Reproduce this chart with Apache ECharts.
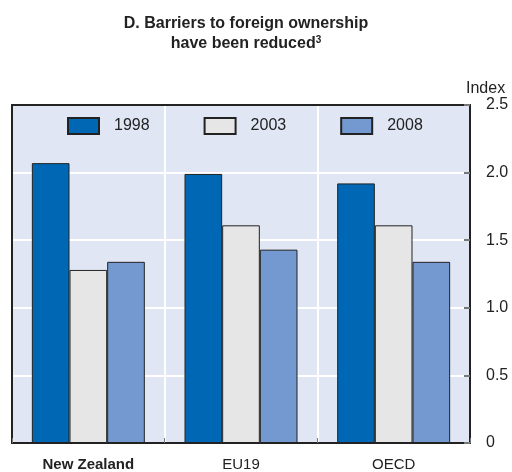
<!DOCTYPE html>
<html><head><meta charset="utf-8">
<script src="https://cdn.jsdelivr.net/npm/echarts@6/dist/echarts.min.js"></script>
<style>html,body{margin:0;padding:0;background:#fff}#c{width:512px;height:472px}</style>
</head><body><div id="c"></div>
<script>
const categories = ['New Zealand', 'EU19', 'OECD'];
const seriesNames = ['1998', '2003', '2008'];
const values1998 = [2.07, 1.99, 1.92];
const values2003 = [1.28, 1.61, 1.61];
const values2008 = [1.34, 1.43, 1.34];
const yTicks = [0, 0.5, 1.0, 1.5, 2.0, 2.5];
const colors = ['#0067B4', '#E6E6E6', '#7399D0'];
const FONT = "'Liberation Sans', Arial, sans-serif";

const chart = echarts.init(document.getElementById('c'), null, {renderer: 'canvas'});
const data = [values1998, values2003, values2008];
chart.setOption({
  animation: false,
  title: {
    text: 'D. Barriers to foreign ownership\nhave been reduced{sup|3}',
    left: 241, top: 9, textAlign: 'center',
    textStyle: {
      fontFamily: FONT, fontSize: 16, fontWeight: 'bold', color: '#222', lineHeight: 20,
      rich: { sup: { fontFamily: FONT, fontSize: 10, fontWeight: 'bold', color: '#222', padding: [0, 0, 7, 0] } }
    }
  },
  legend: {
    data: seriesNames,
    left: 67, top: 117, padding: 0,
    itemWidth: 31, itemHeight: 16, itemGap: 54,
    icon: 'rect',
    textStyle: { fontFamily: FONT, fontSize: 16, color: '#222', padding: [0, 0, 0, 10] }
  },
  grid: {
    left: 12, right: 42, top: 105, bottom: 28,
    show: true, backgroundColor: '#E0E6F4', borderColor: '#222', borderWidth: 0
  },
  xAxis: [{
    type: 'category',
    data: categories.map((c, i) => i === 0 ? { value: c, textStyle: { fontWeight: 'bold' } } : c),
    axisLine: { show: true, lineStyle: { color: '#222', width: 2 } },
    axisTick: { show: true, inside: true, length: 5, lineStyle: { color: '#777' } },
    splitLine: { show: true, lineStyle: { color: '#fff', width: 2 } },
    axisLabel: { fontFamily: FONT, fontSize: 15, color: '#222', margin: 14 }
  }, {
    type: 'category', position: 'top', data: categories,
    axisLine: { show: true, onZero: false, lineStyle: { color: '#222', width: 2 } },
    axisTick: { show: false }, axisLabel: { show: false }, splitLine: { show: false }
  }],
  yAxis: [{
    type: 'value', position: 'right', min: 0, max: 2.5, interval: 0.5,
    name: 'Index', nameLocation: 'end', nameGap: 8,
    nameTextStyle: { fontFamily: FONT, fontSize: 16, color: '#222', align: 'left', padding: [0, 0, 0, -4] },
    axisLine: { show: true, onZero: false, lineStyle: { color: '#222', width: 2 } },
    axisTick: { show: true, inside: true, length: 6, lineStyle: { color: '#777', width: 2 } },
    splitLine: { show: true, lineStyle: { color: '#fff', width: 2 } },
    axisLabel: {
      fontFamily: FONT, fontSize: 16, color: '#222', margin: 16,
      formatter: v => (v === 0 ? '0' : yTicks.includes(v) ? v.toFixed(1) : '')
    }
  }, {
    type: 'value', position: 'left', min: 0, max: 2.5, interval: 0.5,
    axisLine: { show: true, onZero: false, lineStyle: { color: '#222', width: 2 } },
    axisTick: { show: false }, axisLabel: { show: false }, splitLine: { show: false }
  }],
  series: seriesNames.map((n, i) => ({
    name: n, type: 'bar', data: data[i],
    barGap: '0%', barCategoryGap: '26%',
    itemStyle: { color: colors[i], borderColor: '#222', borderWidth: 1 }
  }))
});
</script></body></html>
